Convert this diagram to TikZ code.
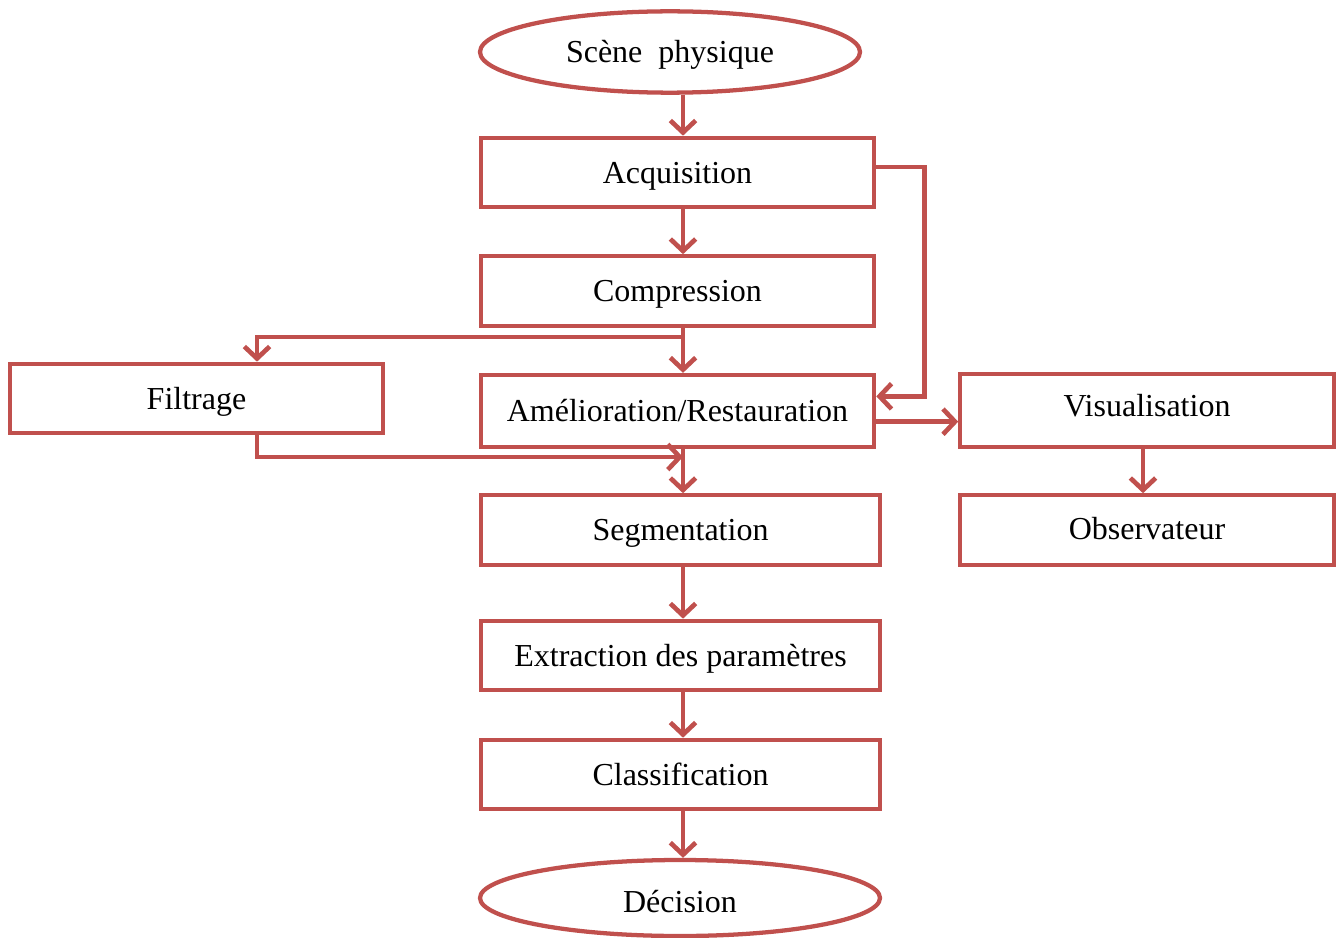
\documentclass[tikz,border=0pt]{standalone}
\usepackage{fontspec}
\setmainfont{Liberation Serif}
\usetikzlibrary{shapes.geometric,arrows.meta}
\definecolor{boxred}{RGB}{192,80,77}
\tikzset{etape/.style={draw=boxred,line width=3.2pt,rectangle,minimum width=295pt,minimum height=52pt,inner sep=0pt,text height=21pt,text depth=5pt,font=\fontsize{24}{28}\selectfont},
  bout/.style={etape,ellipse,minimum width=285pt,minimum height=61pt},
  fleche/.style={draw=boxred,line width=3.5pt,-{Straight Barb[length=9pt,width=19pt]}}}

\begin{document}
\begin{tikzpicture}[x=0.75pt,y=-0.75pt]
                  \useasboundingbox (0,0) rectangle (1338,938);
                  \node[bout] (scene) at (670,52) {Scène\ \ physique};
                  \node[etape] (acq) at (677.5,172.5) {Acquisition};
                  \node[etape] (comp) at (677.5,291) {Compression};
                  \node[etape,minimum height=54pt] (amel) at (677.5,411) {Amélioration/Restauration};
                  \node[etape,minimum width=280pt] (filt) at (196.5,398.5) {Filtrage};
                  \node[etape,minimum width=280pt,minimum height=55pt,text depth=12pt] (visu) at (1147,410.5) {Visualisation};
                  \node[etape,minimum width=280pt,text depth=7pt] (obs) at (1147,530) {Observateur};
                  \node[etape,minimum width=299pt] (seg) at (680.5,530) {Segmentation};
                  \node[etape,minimum width=299pt] (extr) at (680.5,655.5) {Extraction des paramètres};
                  \node[etape,minimum width=299pt] (classif) at (680.5,774.5) {Classification};
                  \node[bout,minimum width=300pt,minimum height=57pt,text depth=0pt] (dec) at (680,898) {Décision};
                  % axe principal
                  \coordinate (axe) at (683,0);
                  \coordinate (fx) at (257,0);
                  \coordinate (fork) at (683,337);
                  \coordinate (join) at (683,457);
                  \draw[fleche] (scene.south -| axe) -- (acq.north -| axe);
                  \draw[fleche] (acq.south -| axe) -- (comp.north -| axe);
                  \draw[fleche] (comp.south -| axe) -- (amel.north -| axe);
                  \draw[fleche] (amel.south -| axe) -- (seg.north -| axe);
                  \draw[fleche] (seg.south -| axe) -- (extr.north -| axe);
                  \draw[fleche] (extr.south -| axe) -- (classif.north -| axe);
                  \draw[fleche] (classif.south -| axe) -- (dec.north -| axe);
                  % filtrage
                  \draw[fleche] (fork) -| (filt.north -| fx);
                  \draw[fleche] (filt.south -| fx) |- (join);
                  % visualisation
                  \draw[fleche] ([yshift=4pt]acq.east) -- ++(48,0) |- ([yshift=11pt]amel.east);
                  \draw[fleche] ([yshift=-8pt]amel.east) -- ([yshift=-8pt]amel.east -| visu.west);
                  \draw[fleche] ([xshift=-3pt]visu.south) -- ([xshift=-3pt]obs.north);
              \end{tikzpicture}
\end{document}
